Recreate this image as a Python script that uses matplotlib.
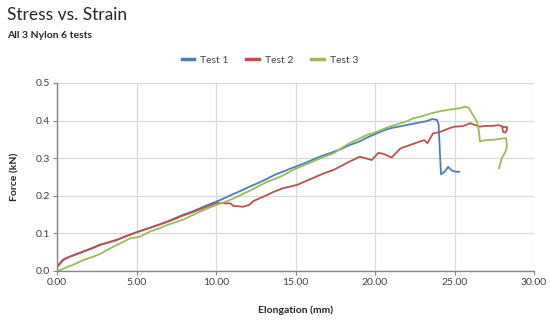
import matplotlib
matplotlib.use("Agg")
import matplotlib.pyplot as plt
from matplotlib.ticker import FormatStrFormatter

title = "Stress vs. Strain"
subtitle = "All 3 Nylon 6 tests"
series_names = ["Test 1", "Test 2", "Test 3"]

test1_x = [0, 0.2, 0.4, 0.8, 1.2, 1.65, 2.2, 2.7, 3.2, 3.75, 4.4, 5.0, 5.5, 6.0, 6.9, 7.4, 7.9, 8.5,
           9.0, 9.5, 10.0, 10.6, 11.1, 11.6, 12.2, 12.6, 13.2, 13.7, 14.2, 14.6, 15.1, 15.7, 16.3,
           16.8, 17.4, 17.9, 18.4, 19.0, 19.5, 20.0, 20.5, 21.0, 21.6, 22.2, 22.8, 23.2, 23.6, 23.9,
           24.0, 24.1, 24.15, 24.4, 24.6, 24.76, 24.9, 25.1, 25.3]
test1_y = [0.01, 0.02, 0.029, 0.038, 0.044, 0.051, 0.06, 0.069, 0.075, 0.082, 0.094, 0.103, 0.11,
           0.117, 0.131, 0.14, 0.149, 0.158, 0.167, 0.176, 0.184, 0.195, 0.205, 0.214, 0.226, 0.233,
           0.245, 0.256, 0.264, 0.271, 0.279, 0.289, 0.300, 0.308, 0.317, 0.325, 0.335, 0.344, 0.355,
           0.364, 0.373, 0.380, 0.385, 0.390, 0.395, 0.398, 0.404, 0.402, 0.39, 0.30, 0.257, 0.265,
           0.277, 0.270, 0.266, 0.264, 0.264]

test2_x = [0, 0.2, 0.4, 0.8, 1.2, 1.65, 2.2, 2.7, 3.2, 3.75, 4.4, 5.0, 5.5, 6.0, 6.9, 7.4, 7.9, 8.5,
           9.0, 9.5, 10.0, 10.6, 10.9, 11.1, 11.7, 12.1, 12.35, 13.0, 13.6, 14.2, 14.6, 15.1, 15.7,
           16.3, 16.8, 17.4, 17.9, 18.4, 19.05, 19.4, 19.8, 20.2, 20.5, 21.05, 21.6, 22.2, 22.8,
           23.1, 23.3, 23.65, 24.1, 24.7, 25.0, 25.5, 26.0, 26.3, 26.6, 27.0, 27.4, 27.75, 28.0,
           28.05, 28.2, 28.3, 28.3, 28.1]
test2_y = [0.01, 0.022, 0.031, 0.038, 0.045, 0.052, 0.061, 0.07, 0.076, 0.083, 0.093, 0.103, 0.11,
           0.117, 0.13, 0.138, 0.147, 0.156, 0.164, 0.172, 0.181, 0.180, 0.180, 0.173, 0.171, 0.176,
           0.186, 0.198, 0.21, 0.22, 0.224, 0.229, 0.240, 0.251, 0.26, 0.269, 0.28, 0.291, 0.304,
           0.300, 0.295, 0.314, 0.312, 0.302, 0.326, 0.335, 0.344, 0.348, 0.340, 0.366, 0.370, 0.38,
           0.384, 0.385, 0.393, 0.388, 0.384, 0.386, 0.386, 0.388, 0.385, 0.370, 0.368, 0.375,
           0.383, 0.383]

test3_x = [0, 0.3, 0.6, 1.1, 1.65, 2.2, 2.7, 3.2, 3.75, 4.2, 4.6, 5.2, 5.85, 6.4, 6.9, 7.4, 7.95,
           8.5, 9.0, 9.5, 10.04, 10.6, 11.1, 11.6, 12.2, 12.6, 13.2, 13.7, 14.2, 14.6, 15.07, 15.7,
           16.3, 16.8, 17.4, 17.9, 18.4, 19.0, 19.5, 20.0, 20.5, 21.0, 21.6, 22.0, 22.4, 23.0, 23.5,
           24.0, 24.5, 25.0, 25.35, 25.66, 25.9, 26.1, 26.3, 26.45, 26.55, 26.6, 26.8, 27.0, 27.5,
           28.1, 28.25, 28.3, 28.2, 27.97, 27.8]
test3_y = [0.0, 0.004, 0.01, 0.018, 0.029, 0.037, 0.045, 0.057, 0.069, 0.078, 0.087, 0.091, 0.105,
           0.113, 0.122, 0.129, 0.137, 0.148, 0.158, 0.167, 0.176, 0.184, 0.193, 0.203, 0.215, 0.224,
           0.237, 0.245, 0.254, 0.263, 0.273, 0.284, 0.295, 0.304, 0.313, 0.327, 0.34, 0.352, 0.362,
           0.368, 0.377, 0.385, 0.393, 0.398, 0.406, 0.412, 0.419, 0.424, 0.428, 0.431, 0.433, 0.437,
           0.434, 0.419, 0.406, 0.393, 0.366, 0.344, 0.347, 0.348, 0.349, 0.353, 0.353, 0.331, 0.317,
           0.30, 0.273]

x_ticks = [0, 5, 10, 15, 20, 25, 30]
y_ticks = [0.0, 0.1, 0.2, 0.3, 0.4, 0.5]
x_label = "Elongation (mm)"
y_label = "Force (kN)"

colors = ["#4A7EBB", "#C0504D", "#9BBB59"]

plt.rcParams['font.family'] = ['Lato', 'DejaVu Sans']

fig = plt.figure(figsize=(5.5, 3.2), dpi=100)
ax = fig.add_axes([57/550, 1 - 271/320, (534-57)/550, (271-83)/320])

for xs, ys, c, n in zip([test1_x, test2_x, test3_x], [test1_y, test2_y, test3_y], colors, series_names):
    ax.plot(xs, ys, color=c, lw=1.3, label=n, solid_joinstyle='round')

ax.set_xlim(0, 30)
ax.set_ylim(0, 0.5)
ax.set_xticks(x_ticks)
ax.set_yticks(y_ticks)
ax.xaxis.set_major_formatter(FormatStrFormatter('%.2f'))
ax.yaxis.set_major_formatter(FormatStrFormatter('%.1f'))
ax.grid(True, color='#D9D9D9', lw=0.9)
ax.set_axisbelow(True)
for s in ['top', 'right']:
    ax.spines[s].set_visible(False)
for s in ['left', 'bottom']:
    ax.spines[s].set_color('#868686')
    ax.spines[s].set_linewidth(1.0)
ax.tick_params(axis='both', colors='#868686', labelcolor='#404040', labelsize=7.5, length=3, width=0.8)
ax.tick_params(axis='x', pad=2)
ax.tick_params(axis='y', pad=2)

ax.set_xlabel(x_label, fontsize=7.5, fontweight='bold', color='#262626', labelpad=13)
ax.set_ylabel(y_label, fontsize=7.5, fontweight='bold', color='#262626', labelpad=12)

fig.text(7/550, 1 - 15/320, title, fontsize=12.5, color='#262626', va='center', ha='left')
fig.text(7/550, 1 - 35/320, subtitle, fontsize=7.5, fontweight='bold', color='#262626', va='center', ha='left')

leg = fig.legend(loc='center', bbox_to_anchor=(270/550, 1 - 60/320), ncol=3, frameon=False,
                 fontsize=7.5, handlelength=1.2, columnspacing=1.7, handletextpad=0.6)
for h in leg.get_lines():
    h.set_linewidth(2.5)
for t in leg.get_texts():
    t.set_color('#404040')

fig.savefig("out.png", dpi=100)
